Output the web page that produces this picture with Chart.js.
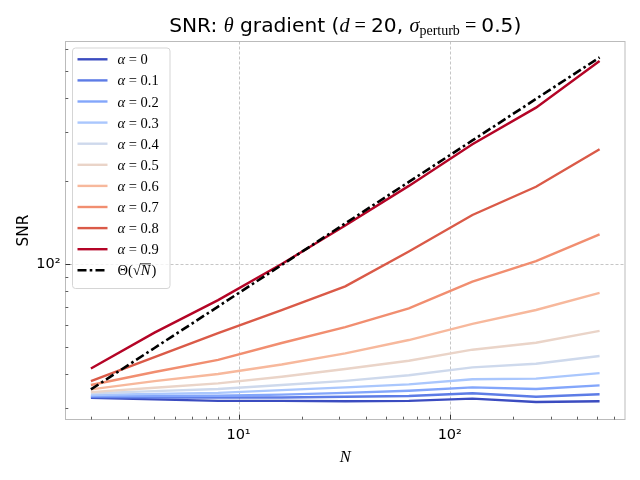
<!DOCTYPE html>
<html>
<head>
<meta charset="utf-8">
<script src="https://cdn.jsdelivr.net/npm/chart.js@4.4.1/dist/chart.umd.min.js"></script>
<style>
  html, body { margin: 0; padding: 0; background: #fff; }
  #wrap { width: 640px; height: 480px; }
</style>
</head>
<body>
<div id="wrap"><canvas id="snrChart" width="640" height="480"></canvas></div>
<script>
// sample sizes on the x axis
const sampleSizes = [2, 4, 8, 16, 32, 64, 128, 256, 512];

// alpha values, one curve each
const alphaLabels = ["0", "0.1", "0.2", "0.3", "0.4", "0.5", "0.6", "0.7", "0.8", "0.9"];

// SNR
const snrAlpha00 = [32.7, 32.3, 31.9, 31.9, 31.8, 31.9, 32.5, 31.6, 31.8];
const snrAlpha01 = [32.9, 32.8, 32.8, 32.8, 33.0, 33.2, 34.0, 33.0, 33.7];
const snrAlpha02 = [33.2, 33.2, 33.3, 33.6, 34.1, 34.7, 35.7, 35.2, 36.3];
const snrAlpha03 = [33.5, 33.8, 34.1, 34.9, 35.7, 36.6, 38.2, 38.4, 40.2];
const snrAlpha04 = [34.0, 34.6, 35.2, 36.4, 37.7, 39.5, 42.2, 43.5, 46.4];
const snrAlpha05 = [34.3, 35.6, 36.9, 39.0, 41.6, 44.6, 48.9, 51.8, 57.2];
const snrAlpha06 = [35.1, 37.6, 39.9, 43.2, 47.4, 53.0, 60.7, 68.1, 78.6];
const snrAlpha07 = [36.4, 40.6, 44.9, 51.7, 59.0, 69.0, 86.3, 102.5, 128.0];
const snrAlpha08 = [37.6, 46.0, 56.2, 68.1, 83.0, 111.0, 150.6, 190.6, 260.6];
const snrAlpha09 = [41.8, 56.4, 74.0, 100.0, 138.0, 192.0, 272.0, 369.0, 545.0];

// reference Theta(sqrt N) line
const snrTheory = [35.1, 49.6, 70.1, 99.2, 140.3, 198.4, 280.6, 396.8, 561.2];

// axis ranges and major ticks
const xRange = [1.516, 675.5];
const yRange = [27.3, 641];
const xMajorTicks = [10, 100];
const yMajorTicks = [100];
const tickText = { 10: "10\u00b9", 100: "10\u00b2" };

const snrSeries = [snrAlpha00, snrAlpha01, snrAlpha02, snrAlpha03, snrAlpha04,
  snrAlpha05, snrAlpha06, snrAlpha07, snrAlpha08, snrAlpha09];

// coolwarm, 10 samples
const lineColors = ["#3b4cc0", "#5d7ce6", "#83a6fb", "#aac7fd", "#ced9ec",
  "#ead4c8", "#f7b89c", "#f18e70", "#da5a48", "#b40426"];

const sansFont = '"DejaVu Sans", sans-serif';
const mathFont = '"Liberation Serif", "DejaVu Serif", serif';

const minorTicks = (lo, hi) => {
  let out = [];
  [1, 10, 100].forEach((d) => {
    for (let k = 2; k <= 9; k++) {
      let v = k * d;
      if (v > lo && v < hi) out.push(v);
    }
  });
  return out;
};

const toPoints = (vals) => sampleSizes.map((n, i) => ({ x: n, y: vals[i] }));

let datasets = snrSeries.map((vals, i) => ({
  label: alphaLabels[i],
  data: toPoints(vals),
  borderColor: lineColors[i],
  backgroundColor: lineColors[i],
  borderWidth: 2.4,
  pointRadius: 0,
  tension: 0,
  order: 20 - i,
}));

datasets.push({
  label: "theory",
  data: toPoints(snrTheory),
  borderColor: "#000000",
  backgroundColor: "#000000",
  borderWidth: 2.6,
  borderDash: [9, 3.2, 2.6, 3.2],
  pointRadius: 0,
  tension: 0,
  order: 0,
});

// text made of runs with different fonts
const drawRuns = (ctx, runs, x, y) => {
  let cx = x;
  runs.forEach((r) => {
    ctx.font = r.font;
    ctx.fillText(r.text, cx, y + (r.dy || 0));
    cx += ctx.measureText(r.text).width;
  });
  return cx;
};

const runsWidth = (ctx, runs) => {
  let w = 0;
  runs.forEach((r) => {
    ctx.font = r.font;
    w += ctx.measureText(r.text).width;
  });
  return w;
};

// dashed grid under the lines
const gridPlugin = {
  id: "majorGrid",
  beforeDatasetsDraw(chart) {
    const { ctx, chartArea: a, scales: { x, y } } = chart;
    ctx.save();
    ctx.strokeStyle = "#b8b8b8";
    ctx.lineWidth = 0.8;
    ctx.setLineDash([3, 2]);
    xMajorTicks.forEach((v) => {
      let px = Math.round(x.getPixelForValue(v)) + 0.5;
      ctx.beginPath();
      ctx.moveTo(px, a.top);
      ctx.lineTo(px, a.bottom);
      ctx.stroke();
    });
    yMajorTicks.forEach((v) => {
      let py = Math.round(y.getPixelForValue(v)) + 0.5;
      ctx.beginPath();
      ctx.moveTo(a.left, py);
      ctx.lineTo(a.right, py);
      ctx.stroke();
    });
    ctx.restore();
  },
};

// frame, inside ticks, titles, legend
const decorPlugin = {
  id: "decor",
  afterDraw(chart) {
    const { ctx, chartArea: a, scales: { x, y } } = chart;
    ctx.save();

    ctx.strokeStyle = "#bbbbbb";
    ctx.lineWidth = 1;
    ctx.strokeRect(a.left, a.top, a.right - a.left, a.bottom - a.top);

    ctx.strokeStyle = "#333333";
    const tick = (x0, y0, x1, y1, w) => {
      ctx.lineWidth = w;
      ctx.beginPath();
      ctx.moveTo(x0, y0);
      ctx.lineTo(x1, y1);
      ctx.stroke();
    };
    minorTicks(xRange[0], xRange[1]).forEach((v) => {
      let px = Math.round(x.getPixelForValue(v)) + 0.5;
      tick(px, a.bottom, px, a.bottom - 2.8, 0.8);
    });
    xMajorTicks.forEach((v) => {
      let px = Math.round(x.getPixelForValue(v)) + 0.5;
      tick(px, a.bottom, px, a.bottom - 4.9, 1);
    });
    minorTicks(yRange[0], yRange[1]).forEach((v) => {
      let py = Math.round(y.getPixelForValue(v)) + 0.5;
      tick(a.left, py, a.left + 2.8, py, 0.8);
    });
    yMajorTicks.forEach((v) => {
      let py = Math.round(y.getPixelForValue(v)) + 0.5;
      tick(a.left, py, a.left + 4.9, py, 1);
    });

    ctx.fillStyle = "#000000";
    ctx.textBaseline = "alphabetic";

    // title
    const tSans = `20.2px ${sansFont}`;
    const tMath = `20.2px ${mathFont}`;
    const tItal = `italic 20.2px ${mathFont}`;
    const titleRuns = [
      { text: "SNR: ", font: tSans },
      { text: "\u03b8", font: tItal },
      { text: " gradient (", font: tSans },
      { text: "d", font: tItal },
      { text: " = ", font: tMath },
      { text: "20, ", font: tSans },
      { text: "\u03c3", font: tItal },
      { text: "perturb", font: `14px ${mathFont}`, dy: 3.8 },
      { text: " = ", font: tMath },
      { text: "0.5)", font: tSans },
    ];
    let cx = (a.left + a.right) / 2;
    drawRuns(ctx, titleRuns, cx - runsWidth(ctx, titleRuns) / 2, 31.5);

    // axis titles
    ctx.font = `italic 16.5px ${mathFont}`;
    ctx.textAlign = "center";
    ctx.fillText("N", cx, 462);
    ctx.save();
    ctx.translate(27.5, (a.top + a.bottom) / 2);
    ctx.rotate(-Math.PI / 2);
    ctx.font = `15.3px ${sansFont}`;
    ctx.fillText("SNR", 0, 0);
    ctx.restore();
    ctx.textAlign = "left";

    // legend
    const box = { left: 72.5, top: 48, right: 170, bottom: 288.5, r: 3 };
    ctx.beginPath();
    ctx.roundRect(box.left, box.top, box.right - box.left, box.bottom - box.top, box.r);
    ctx.fillStyle = "rgba(255,255,255,0.8)";
    ctx.fill();
    ctx.strokeStyle = "#d5d5d5";
    ctx.lineWidth = 1;
    ctx.stroke();

    const lFont = `14.5px ${mathFont}`;
    const lItal = `italic 14.5px ${mathFont}`;
    const rowTop = 59.3;
    const rowStep = 21.1;
    chart.data.datasets.forEach((ds, i) => {
      let ry = rowTop + i * rowStep;
      ctx.strokeStyle = ds.borderColor;
      ctx.lineWidth = ds.borderWidth;
      ctx.setLineDash(ds.borderDash || []);
      ctx.beginPath();
      ctx.moveTo(77.5, ry);
      ctx.lineTo(107.5, ry);
      ctx.stroke();
      ctx.setLineDash([]);
      ctx.fillStyle = "#000000";
      if (i < alphaLabels.length) {
        drawRuns(ctx, [
          { text: "\u03b1", font: lItal },
          { text: " = ", font: lFont },
          { text: ds.label, font: lFont },
        ], 117.5, ry + 5);
      } else {
        let ex = drawRuns(ctx, [
          { text: "\u0398(", font: lFont },
          { text: "\u221a", font: lFont },
        ], 117.5, ry + 5);
        let nx = drawRuns(ctx, [{ text: "N", font: lItal }], ex, ry + 5);
        drawRuns(ctx, [{ text: ")", font: lFont }], nx + 1, ry + 5);
        ctx.strokeStyle = "#000000";
        ctx.lineWidth = 0.8;
        ctx.beginPath();
        ctx.moveTo(ex - 0.5, ry - 6.5);
        ctx.lineTo(nx + 0.5, ry - 6.5);
        ctx.stroke();
      }
    });

    ctx.restore();
  },
};

const snrChart = new Chart(document.getElementById("snrChart"), {
  type: "line",
  data: { datasets: datasets },
  options: {
    responsive: false,
    animation: false,
    devicePixelRatio: 1,
    layout: { padding: { left: 0, right: 15, top: 41.5, bottom: 0 } },
    plugins: {
      legend: { display: false },
      title: { display: false },
      tooltip: { enabled: false },
    },
    scales: {
      x: {
        type: "logarithmic",
        min: xRange[0],
        max: xRange[1],
        bounds: "data",
        afterBuildTicks: (scale) => {
          scale.ticks = xMajorTicks.map((v) => ({ value: v }));
        },
        afterFit: (scale) => {
          scale.height = 60.5;
        },
        grid: { display: false, drawTicks: false },
        border: { display: false },
        ticks: {
          autoSkip: false,
          maxRotation: 0,
          padding: 7,
          color: "#000000",
          font: { family: "DejaVu Sans", size: 14.5 },
          callback: (v) => tickText[v] || "",
        },
      },
      y: {
        type: "logarithmic",
        min: yRange[0],
        max: yRange[1],
        bounds: "data",
        afterBuildTicks: (scale) => {
          scale.ticks = yMajorTicks.map((v) => ({ value: v }));
        },
        afterFit: (scale) => {
          scale.width = 65.5;
        },
        grid: { display: false, drawTicks: false },
        border: { display: false },
        ticks: {
          autoSkip: false,
          padding: 5,
          color: "#000000",
          font: { family: "DejaVu Sans", size: 14.5 },
          callback: (v) => tickText[v] || "",
        },
      },
    },
  },
  plugins: [gridPlugin, decorPlugin],
});
</script>
</body>
</html>
